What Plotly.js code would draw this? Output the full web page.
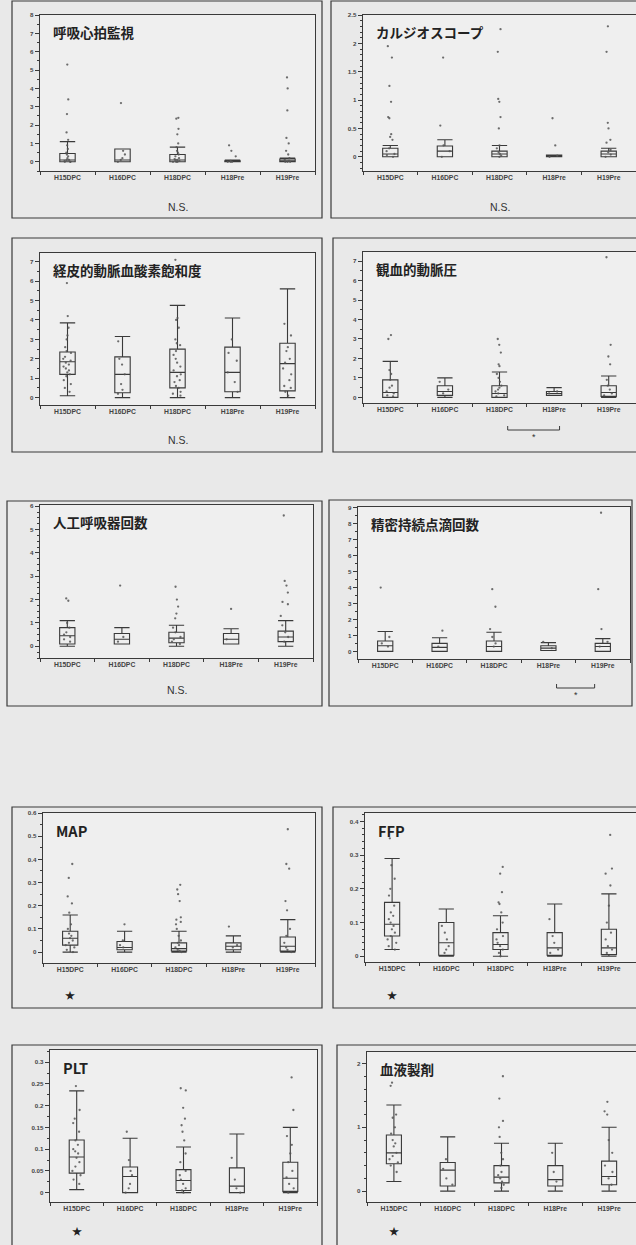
<!DOCTYPE html>
<html><head><meta charset="utf-8">
<script src="https://cdn.plot.ly/plotly-3.0.1.min.js"></script>
<style>html,body{margin:0;padding:0;background:#e9e9e9}#c{width:636px;height:1245px}</style>
</head><body><div id="c"></div>
<script>
const categories = ['H15DPC','H16DPC','H18DPC','H18Pre','H19Pre'];

// Panel 1: 呼吸心拍監視
const t1 = '呼吸心拍監視';
const q1_1 = [0,0,0,0,0], med_1 = [0.1,0.1,0.1,0,0.05], q3_1 = [0.45,0.7,0.4,0.05,0.15], lo_1 = [0,0,0,0,0], hi_1 = [1.1,0.7,0.8,0.1,0.2];
const pts_1 = [[5.3,3.4,2.6,1.6,1.2,0.9,0.7,0.5,0.4,0.3,0.2,0.1,0.1,0.05,0,0,0],[3.2,0.6,0.4,0.2,0.1,0],[2.4,2.35,1.8,1.5,1.0,0.8,0.6,0.5,0.4,0.3,0.2,0.15,0.1,0.1,0.05,0,0,0],[0.9,0.6,0.3,0.05,0,0,0],[4.6,4.0,2.8,1.3,1.0,0.6,0.4,0.2,0.1,0.05,0,0,0]];

// Panel 2: カルジオスコープ
const t2 = 'カルジオスコープ';
const q1_2 = [0,0,0,0,0], med_2 = [0.05,0.1,0.05,0.01,0.05], q3_2 = [0.15,0.19,0.1,0.03,0.1], lo_2 = [0,0,0,0,0], hi_2 = [0.2,0.3,0.2,0.03,0.15];
const pts_2 = [[1.95,1.75,1.25,0.97,0.7,0.68,0.4,0.35,0.3,0.15,0.1,0.05,0.03,0],[1.75,0.55,0.2,0.1,0],[2.25,1.85,1.02,0.97,0.7,0.5,0.2,0.15,0.08,0.05,0.02,0],[0.68,0.2,0.02,0],[2.3,1.85,0.6,0.5,0.3,0.25,0.12,0.08,0.04,0]];

// Panel 3: 経皮的動脈血酸素飽和度
const t3 = '経皮的動脈血酸素飽和度';
const q1_3 = [1.2,0.25,0.5,0.3,0.35], med_3 = [1.85,1.2,1.3,1.3,1.75], q3_3 = [2.35,2.1,2.5,2.6,2.8], lo_3 = [0.1,0,0,0,0], hi_3 = [3.85,3.15,4.75,4.1,5.6];
const pts_3 = [[5.9,4.2,3.6,3.2,3.0,2.6,2.4,2.3,2.1,2.0,1.9,1.8,1.7,1.6,1.5,1.4,1.3,1.2,1.1,0.9,0.7,0.5,0.3],[2.9,2.0,1.7,1.2,0.7,0.4,0.2],[7.1,6.2,4.1,4.0,3.6,3.0,2.8,2.7,2.4,2.2,2.0,1.8,1.6,1.4,1.2,1.1,0.9,0.8,0.6,0.5,0.3,0.2,0.1],[3.0,2.3,1.9,1.3,0.8,0.3],[3.8,3.2,2.6,2.4,2.0,1.8,1.5,1.2,0.9,0.6,0.5,0.3,0.1]];

// Panel 4: 観血的動脈圧
const t4 = '観血的動脈圧';
const q1_4 = [0,0.1,0,0.1,0.05], med_4 = [0.25,0.3,0.2,0.2,0.25], q3_4 = [0.9,0.6,0.6,0.3,0.6], lo_4 = [0,0,0,0.1,0], hi_4 = [1.85,1.0,1.3,0.5,1.1];
const pts_4 = [[3.2,3.0,1.4,1.2,0.9,0.6,0.5,0.3,0.2,0.1,0.05],[0.8,0.4,0.2],[3.0,2.7,2.3,1.7,1.6,1.2,1.0,0.8,0.6,0.5,0.4,0.3,0.2,0.1,0.05],[0.3,0.2],[7.2,2.7,2.1,1.7,0.9,0.6,0.4,0.2,0.1]];

// Panel 5: 人工呼吸器回数
const t5 = '人工呼吸器回数';
const q1_5 = [0.1,0.1,0.15,0.1,0.2], med_5 = [0.45,0.3,0.35,0.3,0.4], q3_5 = [0.8,0.55,0.6,0.55,0.65], lo_5 = [0,0.1,0,0.1,0], hi_5 = [1.1,0.8,0.9,0.75,1.1];
const pts_5 = [[2.05,1.95,1.0,0.8,0.6,0.5,0.4,0.3,0.2],[2.6,0.4,0.2],[2.55,2.0,1.7,1.4,1.2,0.8,0.6,0.4,0.3,0.2,0.1],[1.6,0.3],[5.6,2.8,2.6,2.3,1.9,1.8,1.3,0.9,0.6,0.4,0.2]];

// Panel 6: 精密持続点滴回数
const t6 = '精密持続点滴回数';
const q1_6 = [0,0,0,0.05,0], med_6 = [0.35,0.25,0.3,0.2,0.3], q3_6 = [0.65,0.5,0.65,0.35,0.5], lo_6 = [0,0,0,0.05,0], hi_6 = [1.25,0.85,1.2,0.55,0.8];
const pts_6 = [[4.0,0.9,0.5,0.3],[1.3,0.3],[3.9,2.8,1.4,0.9,0.5,0.3],[0.6,0.2],[8.7,3.9,1.4,0.6,0.3]];

// Panel 7: MAP
const t7 = 'MAP';
const q1_7 = [0.03,0.01,0.005,0.01,0.005], med_7 = [0.06,0.02,0.015,0.025,0.025], q3_7 = [0.09,0.046,0.04,0.04,0.065], lo_7 = [0,0,0,0,0], hi_7 = [0.16,0.09,0.09,0.07,0.14];
const pts_7 = [[0.38,0.32,0.24,0.21,0.17,0.12,0.1,0.08,0.07,0.06,0.05,0.04,0.03,0.02,0.01,0],[0.12,0.05,0.03,0.02],[0.29,0.27,0.25,0.22,0.15,0.14,0.13,0.12,0.1,0.07,0.05,0.04,0.03,0.02,0.01,0.005,0],[0.11,0.03,0.02],[0.53,0.38,0.36,0.22,0.18,0.1,0.07,0.04,0.02,0.01,0]];

// Panel 8: FFP
const t8 = 'FFP';
const q1_8 = [0.06,0.003,0.02,0.003,0.005], med_8 = [0.095,0.04,0.035,0.025,0.025], q3_8 = [0.16,0.1,0.07,0.07,0.08], lo_8 = [0.02,0,0,0,0], hi_8 = [0.29,0.14,0.12,0.155,0.185];
const pts_8 = [[0.35,0.27,0.23,0.2,0.18,0.15,0.13,0.12,0.11,0.1,0.09,0.08,0.07,0.06,0.05,0.04,0.03,0.02],[0.09,0.07,0.05,0.03,0.02,0.01],[0.265,0.245,0.19,0.16,0.155,0.13,0.1,0.08,0.06,0.05,0.04,0.03,0.02,0.01,0],[0.11,0.06,0.04,0.02,0.01],[0.36,0.26,0.245,0.21,0.15,0.1,0.07,0.05,0.03,0.02,0.01]];

// Panel 9: PLT
const t9 = 'PLT';
const q1_9 = [0.045,0,0.005,0,0.003], med_9 = [0.082,0.037,0.028,0.015,0.033], q3_9 = [0.121,0.059,0.053,0.057,0.07], lo_9 = [0.007,0,0,0,0], hi_9 = [0.234,0.125,0.105,0.135,0.15];
const pts_9 = [[0.245,0.19,0.17,0.16,0.14,0.12,0.11,0.1,0.095,0.09,0.08,0.07,0.06,0.05,0.04,0.03,0.02],[0.14,0.075,0.05,0.04,0.02,0.01,0],[0.24,0.235,0.195,0.17,0.155,0.14,0.12,0.09,0.07,0.05,0.04,0.03,0.02,0.01,0.005,0],[0.08,0.03,0.01,0],[0.265,0.19,0.13,0.11,0.09,0.07,0.05,0.035,0.02,0.01,0]];

// Panel 10: 血液製剤
const t10 = '血液製剤';
const q1_10 = [0.43,0.08,0.13,0.08,0.1], med_10 = [0.6,0.33,0.22,0.18,0.23], q3_10 = [0.88,0.45,0.4,0.4,0.47], lo_10 = [0.15,0,0,0,0], hi_10 = [1.35,0.85,0.75,0.75,1.0];
const pts_10 = [[1.7,1.65,1.2,1.15,1.0,0.9,0.8,0.75,0.7,0.6,0.55,0.5,0.45,0.4,0.3],[0.5,0.35,0.2,0.1],[1.8,1.45,1.1,1.0,0.85,0.6,0.5,0.4,0.3,0.25,0.2,0.15,0.1,0.05],[0.6,0.3,0.15],[1.4,1.25,1.2,0.8,0.6,0.4,0.3,0.2,0.1]];

// ---- layout configuration (pixel positions on the 636x1245 page) ----
const W = 636, H = 1245;
const panels = [
  {t:t1, q1:q1_1, med:med_1, q3:q3_1, lo:lo_1, hi:hi_1, pts:pts_1, range:[-0.5,8], dtick:1, minor:0.5, rect:[40,315,15,171], frame:[12,322,1,218], note:'NS', noteY:207},
  {t:t2, q1:q1_2, med:med_2, q3:q3_2, lo:lo_2, hi:hi_2, pts:pts_2, range:[-0.25,2.5], dtick:0.5, minor:0.1, rect:[363,640,15,171], frame:[331,650,1,218], note:'NS', noteY:207},
  {t:t3, q1:q1_3, med:med_3, q3:q3_3, lo:lo_3, hi:hi_3, pts:pts_3, range:[-0.38,7.45], dtick:1, minor:0.5, rect:[40,315,253,405], frame:[12,322,238,452], note:'NS', noteY:440},
  {t:t4, q1:q1_4, med:med_4, q3:q3_4, lo:lo_4, hi:hi_4, pts:pts_4, range:[-0.29,7.47], dtick:1, minor:0.5, rect:[363,640,252,403], frame:[333,650,238,452], note:'BR', br:[2.15,3.1], brY:430},
  {t:t5, q1:q1_5, med:med_5, q3:q3_5, lo:lo_5, hi:hi_5, pts:pts_5, range:[-0.5,6.05], dtick:1, minor:0.25, rect:[40,313,505,658], frame:[7,322,501,706], note:'NS', noteY:690},
  {t:t6, q1:q1_6, med:med_6, q3:q3_6, lo:lo_6, hi:hi_6, pts:pts_6, range:[-0.48,9.06], dtick:1, minor:0.5, rect:[358,630,507,659], frame:[329,632,500,706], note:'BR', br:[3.15,3.85], brY:688},
  {t:t7, q1:q1_7, med:med_7, q3:q3_7, lo:lo_7, hi:hi_7, pts:pts_7, range:[-0.047,0.6], dtick:0.1, minor:0.05, rect:[43,315,813,963], frame:[12,322,807,1008], note:'ST', noteY:995},
  {t:t8, q1:q1_8, med:med_8, q3:q3_8, lo:lo_8, hi:hi_8, pts:pts_8, range:[-0.017,0.425], dtick:0.1, minor:0.02, rect:[365,640,813,962], frame:[333,650,807,1008], note:'ST', noteY:995},
  {t:t9, q1:q1_9, med:med_9, q3:q3_9, lo:lo_9, hi:hi_9, pts:pts_9, range:[-0.0215,0.328], dtick:0.05, minor:0.025, rect:[50,317,1050,1202], frame:[12,322,1045,1260], note:'ST', noteY:1230},
  {t:t10, q1:q1_10, med:med_10, q3:q3_10, lo:lo_10, hi:hi_10, pts:pts_10, range:[-0.17,2.18], dtick:1, minor:0.2, rect:[367,640,1052,1202], frame:[337,650,1045,1260], note:'ST', noteY:1230}
];

const LINE = '#3a3a3a';
const traces = [];
const layout = {
  width: W, height: H,
  margin: {l:0, r:0, t:0, b:0},
  paper_bgcolor: '#e9e9e9',
  plot_bgcolor: '#efefef',
  showlegend: false,
  boxmode: 'overlay',
  boxgap: 0.6,
  font: {family: 'Liberation Sans, Arial, sans-serif', color: '#333'},
  shapes: [], annotations: []
};
const px = v => v / W, py = v => 1 - v / H;

panels.forEach((p, i) => {
  const n = i + 1;
  const xa = 'x' + (n === 1 ? '' : n), ya = 'y' + (n === 1 ? '' : n);
  const xk = 'xaxis' + (n === 1 ? '' : n), yk = 'yaxis' + (n === 1 ? '' : n);
  const [l, r, t, b] = p.rect;
  layout[xk] = {
    domain: [px(l), Math.min(1, px(r))], anchor: ya, type: 'category',
    categoryarray: categories, categoryorder: 'array', range: [-0.5, 4.5],
    showline: true, mirror: true, linecolor: LINE, linewidth: 1.3,
    ticks: 'outside', tickson: 'boundaries', ticklen: 3, tickcolor: LINE,
    tickfont: {size: 6.8, weight: 'bold', color: '#444'}, showgrid: false, zeroline: false, fixedrange: true
  };
  layout[yk] = {
    domain: [py(b), py(t)], anchor: xa, range: p.range,
    showline: true, mirror: true, linecolor: LINE, linewidth: 1.3,
    ticks: 'outside', ticklen: 4, tickcolor: LINE, dtick: p.dtick, tick0: 0,
    minor: {dtick: p.minor, ticklen: 2, tickcolor: LINE, ticks: 'outside'},
    tickfont: {size: 6.2, weight: 'bold', color: '#444'}, showgrid: false, zeroline: false, fixedrange: true
  };
  // summary boxes
  traces.push({
    type: 'box', x: categories, q1: p.q1, median: p.med, q3: p.q3,
    lowerfence: p.lo, upperfence: p.hi, xaxis: xa, yaxis: ya,
    boxpoints: false, whiskerwidth: 1, fillcolor: 'rgba(0,0,0,0)',
    line: {color: '#3a3a3a', width: 1.1}, hoverinfo: 'skip'
  });
  // individual observations (jittered by the library)
  const xs = [], ys = [];
  p.pts.forEach((arr, k) => arr.forEach(v => { xs.push(categories[k]); ys.push(v); }));
  traces.push({
    type: 'box', x: xs, y: ys, xaxis: xa, yaxis: ya,
    boxpoints: 'all', jitter: 0.7, pointpos: 0,
    fillcolor: 'rgba(0,0,0,0)', line: {color: 'rgba(0,0,0,0)', width: 0},
    marker: {color: '#555', size: 2.3, opacity: 0.85}, hoverinfo: 'skip'
  });
  // outer frame
  const [fl, fr, ft, fb] = p.frame;
  layout.shapes.push({type: 'rect', xref: 'paper', yref: 'paper', x0: px(fl), x1: px(fr), y0: py(fb), y1: py(ft),
    line: {color: LINE, width: 1.2}, fillcolor: 'rgba(0,0,0,0)', layer: 'below'});
  // title inside the plot
  const latin = /^[A-Z]+$/.test(p.t);
  layout.annotations.push({xref: xa + ' domain', yref: ya + ' domain', x: 0.04, y: 0.965, xanchor: 'left', yanchor: 'top',
    text: '<b>' + p.t + '</b>', showarrow: false,
    font: {family: 'Noto Sans CJK JP, Liberation Sans, sans-serif', size: latin ? 14.5 : 13.5, color: '#222'}});
  const cx = (px(l) + Math.min(1, px(r))) / 2;
  if (p.note === 'NS') {
    layout.annotations.push({xref: 'paper', yref: 'paper', x: cx, y: py(p.noteY), text: 'N.S.', showarrow: false,
      font: {size: 10.5, color: '#333'}, xanchor: 'center', yanchor: 'middle'});
  } else if (p.note === 'ST') {
    layout.annotations.push({xref: xa, yref: 'paper', x: categories[0], y: py(p.noteY), text: '★', showarrow: false,
      font: {family: 'Noto Sans CJK JP, DejaVu Sans', size: 10, color: '#222'}, xanchor: 'center', yanchor: 'middle'});
  } else if (p.note === 'BR') {
    const [a, c] = p.br, yb = py(p.brY), yt = py(p.brY - 4);
    [[a, yb, c, yb], [a, yb, a, yt], [c, yb, c, yt]].forEach(s => layout.shapes.push({type: 'line', xref: xa, yref: 'paper',
      x0: s[0], y0: s[1], x1: s[2], y1: s[3], line: {color: LINE, width: 1}}));
    layout.annotations.push({xref: xa, yref: 'paper', x: (a + c) / 2, y: py(p.brY + 7), text: '*', showarrow: false,
      font: {size: 9, color: '#333'}, xanchor: 'center', yanchor: 'middle'});
  }
});

Plotly.newPlot('c', traces, layout, {displayModeBar: false, staticPlot: true});
</script>
</body></html>
